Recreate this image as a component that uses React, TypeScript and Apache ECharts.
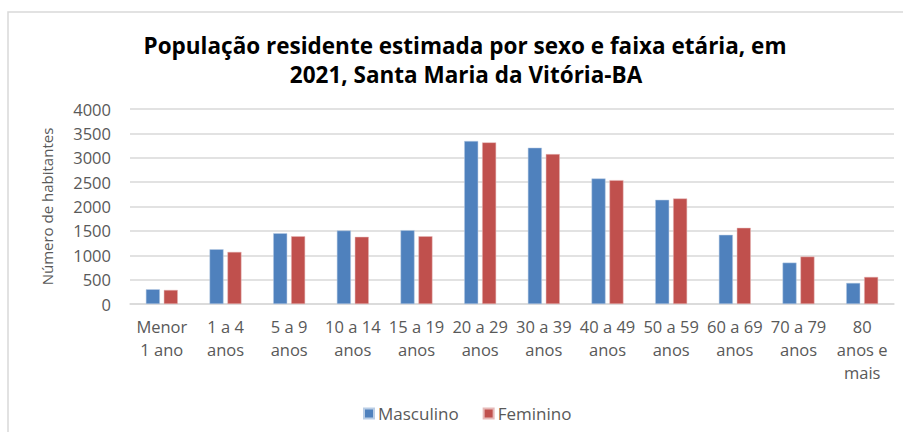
import React, { useEffect, useRef } from "react";
import * as echarts from "echarts";

const categories = [
  "Menor\n1 ano",
  "1 a 4\nanos",
  "5 a 9\nanos",
  "10 a 14\nanos",
  "15 a 19\nanos",
  "20 a 29\nanos",
  "30 a 39\nanos",
  "40 a 49\nanos",
  "50 a 59\nanos",
  "60 a 69\nanos",
  "70 a 79\nanos",
  "80\nanos e\nmais",
];
const masculino = [302, 1123, 1452, 1507, 1514, 3343, 3206, 2575, 2137, 1418, 849, 432];
const feminino = [288, 1068, 1390, 1377, 1390, 3315, 3075, 2541, 2165, 1562, 973, 555];
const yTicks = { min: 0, max: 4000, interval: 500 };

const FONT = "'Open Sans', 'Noto Sans', sans-serif";

export default function App() {
  const ref = useRef<HTMLDivElement>(null);
  useEffect(() => {
    document.body.style.margin = "0";
    const chart = echarts.init(ref.current!, null, { renderer: "svg" });
    chart.setOption({
      animation: false,
      backgroundColor: "#ffffff",
      graphic: [
        {
          type: "rect",
          shape: { x: 8, y: 12, width: 1000, height: 1000 },
          style: { fill: "none", stroke: "#d9d9d9", lineWidth: 1.5 },
          silent: true,
        },
        {
          type: "text",
          x: 465,
          y: 45,
          style: {
            text: "População residente estimada por sexo e faixa etária, em",
            font: `bold 22.5px ${FONT}`,
            fill: "#000000",
            align: "center",
            verticalAlign: "middle",
          },
        },
        {
          type: "text",
          x: 466,
          y: 74,
          style: {
            text: "2021, Santa Maria da Vitória-BA",
            font: `bold 22.5px ${FONT}`,
            fill: "#000000",
            align: "center",
            verticalAlign: "middle",
          },
        },
      ],
      legend: {
        data: ["Masculino", "Feminino"],
        left: 358,
        top: 400,
        itemWidth: 10,
        itemHeight: 10,
        itemGap: 24,
        icon: "rect",
        textStyle: { fontFamily: FONT, fontSize: 17, color: "#595959", padding: [0, 0, 0, -1] },
      },
      grid: { left: 130, right: 9, top: 109, bottom: 128, containLabel: false },
      xAxis: {
        type: "category",
        data: categories,
        axisLine: { show: true, lineStyle: { color: "#d9d9d9", width: 1.5 } },
        axisTick: { show: false },
        axisLabel: {
          interval: 0,
          margin: 11,
          fontFamily: FONT,
          fontSize: 16.5,
          color: "#595959",
          lineHeight: 23,
        },
      },
      yAxis: {
        type: "value",
        min: yTicks.min,
        max: yTicks.max,
        interval: yTicks.interval,
        name: "Número de habitantes",
        nameLocation: "middle",
        nameGap: 76,
        nameRotate: 90,
        nameTextStyle: { fontFamily: FONT, fontSize: 15, color: "#595959" },
        axisLine: { show: false },
        axisTick: { show: false },
        splitLine: { lineStyle: { color: "#d9d9d9", width: 1.5 } },
        axisLabel: {
          margin: 19,
          fontFamily: FONT,
          fontSize: 16.5,
          color: "#595959",
          formatter: (v: number) => String(v),
        },
      },
      series: [
        {
          name: "Masculino",
          type: "bar",
          data: masculino,
          barWidth: 14,
          barGap: "28%",
          itemStyle: { color: "#4F81BD", borderColor: "#b9cde5", borderWidth: 0.5 },
        },
        {
          name: "Feminino",
          type: "bar",
          data: feminino,
          barWidth: 14,
          itemStyle: { color: "#C0504D", borderColor: "#e6b9b8", borderWidth: 0.5 },
        },
      ],
    });
    return () => chart.dispose();
  }, []);
  return <div ref={ref} style={{ width: 903, height: 432 }} />;
}
